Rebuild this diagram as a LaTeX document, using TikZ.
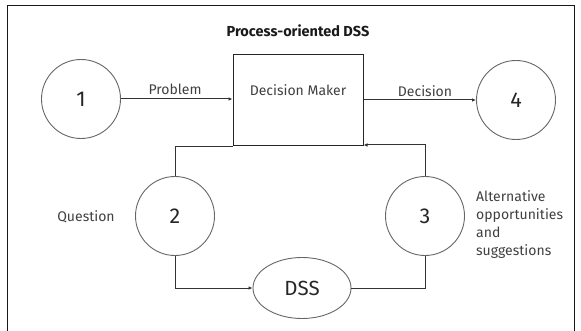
\documentclass[tikz,border=0pt]{standalone}
\usepackage{fontspec}
\setmainfont{Fira Sans}
\usetikzlibrary{arrows.meta, shapes.geometric}
\begin{document}
\begin{tikzpicture}[x=1pt, y=-1pt,
  stage/.style={circle, draw=black!60, line width=0.9pt, minimum size=79pt,
    inner sep=0pt, text=black!85, font=\fontsize{21.5}{24}\selectfont},
  flow/.style={draw=black!80, line width=1pt},
  arr/.style={flow, -{Latex[length=4pt,width=3.5pt]}},
  lbl/.style={font=\fontsize{14}{16}\selectfont, text=black!75, inner sep=0pt}
]
\useasboundingbox (0,0) rectangle (581,331);
% open frame
\draw[line width=1pt, black!90] (7,331) -- (7,6) -- (574,6) -- (574,331);

% title
\node[font=\bfseries\fontsize{14.5}{16}\selectfont, text=black!90] (title) at (298,31) {Process-oriented DSS};

% decision maker box
\node[draw=black!85, line width=1pt, minimum width=130pt, minimum height=91pt, inner sep=0pt] (dm) at (298,100.5) {};
\node[lbl] (dmtext) at (298,90) {Decision Maker};

% stages
\node[stage] (c1) at (81,99) {1};
\node[stage] (c4) at (516,100) {4};
\node[stage] (c2) at (175,216) {2};
\node[stage] (c3) at (425,216) {3};

% DSS
\node[ellipse, draw=black!60, line width=0.9pt, minimum width=98pt, minimum height=61pt,
  inner sep=0pt, text=black!85, font=\fontsize{20.5}{24}\selectfont] (dss) at (302,288) {DSS};

% connectors
\draw[arr] (c1) -- (c1 -| dm.west);
\draw[arr] (c4 -| dm.east) -- (c4);
\draw[flow] (c2.north) |- (dm.south west);
\draw[arr] (c3.north) |- ([yshift=1.5pt]dm.south east);
\draw[arr] (c2.south) |- (dss.west);
\draw[flow] (dss.east) -| (c3.south);

% labels
\node[lbl] (lproblem) at (175,89.5) {Problem};
\node[lbl] (ldecision) at (425,91) {Decision};
\node[lbl] (lquestion) at (86,217) {Question};
\node[lbl, anchor=west, align=left, font=\fontsize{14}{17.7}\selectfont] (lalt) at (476,224.5)
  {Alternative\\opportunities\\and\\suggestions};
\end{tikzpicture}
\end{document}
